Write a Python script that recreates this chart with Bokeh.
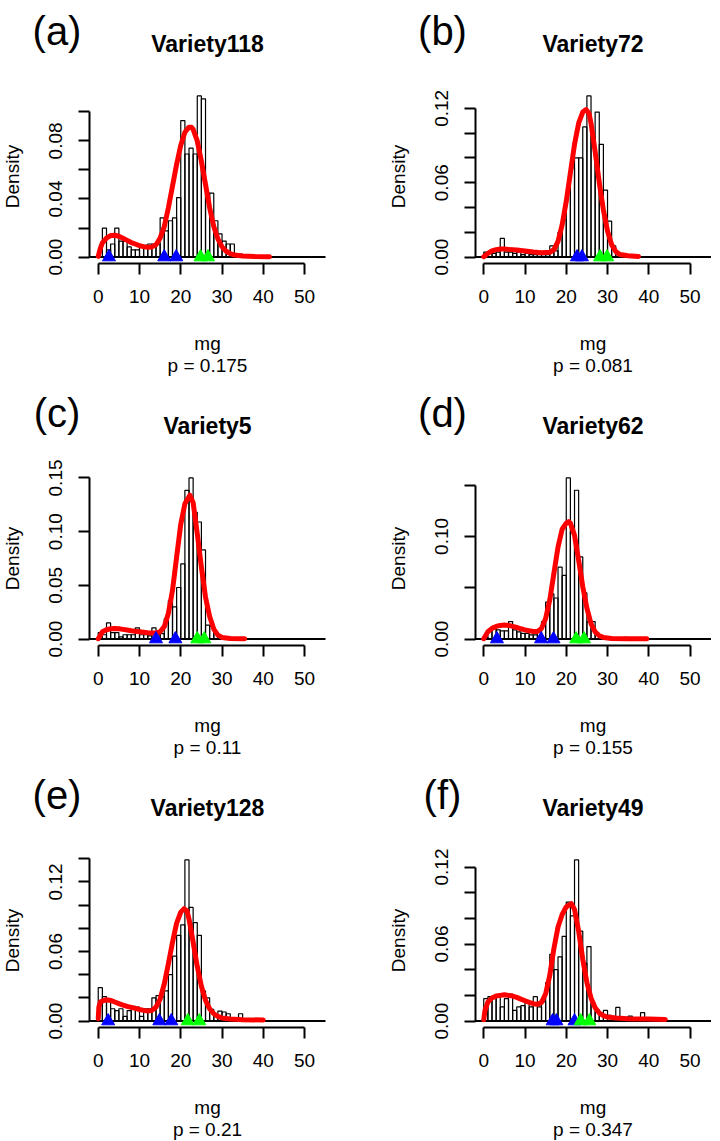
from math import pi
from bokeh.plotting import figure
from bokeh.models import Range1d, LinearAxis, FixedTicker, Label
from bokeh.layouts import column, row
from bokeh.embed import file_html
from bokeh.resources import INLINE

# ---------------- data ----------------
letters = ["(a)", "(b)", "(c)", "(d)", "(e)", "(f)"]
varieties = ["Variety118", "Variety72", "Variety5", "Variety62", "Variety128", "Variety49"]
p_values = ["p = 0.175", "p = 0.081", "p = 0.11", "p = 0.155", "p = 0.21", "p = 0.347"]
x_label = "mg"
y_label = "Density"
x_ticks = [0, 10, 20, 30, 40, 50]

# histogram densities, bins of width 1 starting at 0
hist_a = [0.000, 0.020, 0.005, 0.009, 0.020, 0.011, 0.011, 0.007, 0.005, 0.005,
          0.007, 0.008, 0.009, 0.009, 0.009, 0.027, 0.018, 0.025, 0.027, 0.041,
          0.094, 0.071, 0.075, 0.071, 0.111, 0.109, 0.044, 0.044, 0.025, 0.016,
          0.011, 0.009, 0.009, 0.002, 0.002]
hist_b = [0.004, 0.004, 0.003, 0.004, 0.015, 0.004, 0.004, 0.003, 0.004, 0.002,
          0.003, 0.002, 0.002, 0.002, 0.002, 0.002, 0.009, 0.005, 0.020, 0.030,
          0.052, 0.072, 0.080, 0.080, 0.105, 0.130, 0.097, 0.117, 0.091, 0.054,
          0.029, 0.009, 0.003, 0.001]
hist_c = [0.006, 0.004, 0.015, 0.006, 0.006, 0.002, 0.004, 0.004, 0.004, 0.0105,
          0.004, 0.004, 0.003, 0.0105, 0.004, 0.005, 0.019, 0.036, 0.030, 0.048,
          0.070, 0.1385, 0.150, 0.118, 0.109, 0.083, 0.013, 0.012, 0.005, 0.002,
          0.001]
hist_d = [0.002, 0.009, 0.0125, 0.009, 0.008, 0.008, 0.017, 0.009, 0.007, 0.0055,
          0.0055, 0.004, 0.004, 0.007, 0.017, 0.036, 0.044, 0.040, 0.070, 0.062,
          0.157, 0.105, 0.145, 0.080, 0.045, 0.017, 0.017, 0.0055, 0.002, 0.001,
          0.001, 0.0, 0.0, 0.0, 0.0016]
hist_e = [0.0288, 0.021, 0.019, 0.0106, 0.009, 0.0106, 0.004, 0.009, 0.0127, 0.012,
          0.004, 0.0106, 0.0106, 0.020, 0.022, 0.021, 0.026, 0.040, 0.056, 0.074,
          0.083, 0.139, 0.098, 0.085, 0.074, 0.026, 0.020, 0.010, 0.005, 0.0086,
          0.0078, 0.0063, 0.002, 0.001, 0.0063]
hist_f = [0.0174, 0.019, 0.019, 0.019, 0.011, 0.0174, 0.021, 0.0083, 0.011, 0.012,
          0.016, 0.011, 0.019, 0.011, 0.015, 0.030, 0.052, 0.040, 0.050, 0.066,
          0.0927, 0.082, 0.1255, 0.070, 0.045, 0.058, 0.0135, 0.0088, 0.0057, 0.0083,
          0.0044, 0.002, 0.0106, 0.002, 0.001, 0.0039, 0.001, 0.001, 0.0065]

# fitted density curves
curve_x_a = [0, 0.5, 1, 2, 3, 4, 5, 6, 7, 8, 9, 10, 11, 12, 13, 14, 15, 16, 17, 18, 19,
             20, 21, 22, 22.6, 23, 24, 25, 26, 27, 28, 29, 30, 31, 32, 33, 35, 38, 41.5]
curve_y_a = [0.0005, 0.006, 0.0097, 0.013, 0.0148, 0.015, 0.0143, 0.013, 0.0115, 0.010,
             0.009, 0.0078, 0.0072, 0.0067, 0.007, 0.0085, 0.013, 0.021, 0.034, 0.049,
             0.064, 0.077, 0.086, 0.0895, 0.0895, 0.088, 0.080, 0.066, 0.050, 0.034,
             0.021, 0.0125, 0.007, 0.004, 0.0023, 0.0014, 0.0007, 0.0003, 0.0002]
curve_x_b = [0, 1, 2, 3, 4, 5, 6, 8, 10, 12, 14, 16, 17, 18, 19, 20, 21, 22, 23, 24,
             24.8, 25.5, 26, 27, 28, 29, 30, 31, 32, 33, 35, 37.5]
curve_y_b = [0.0003, 0.003, 0.005, 0.006, 0.0065, 0.0065, 0.0062, 0.0057, 0.0049, 0.004,
             0.0035, 0.0038, 0.006, 0.0127, 0.026, 0.045, 0.068, 0.091, 0.108, 0.117,
             0.119, 0.116, 0.108, 0.085, 0.060, 0.038, 0.021, 0.010, 0.0045, 0.002,
             0.001, 0.0005]
curve_x_c = [0, 1, 2, 3, 4, 5, 6, 7, 8, 10, 12, 13, 14, 15, 16, 17, 18, 19, 20, 21,
             22.2, 23, 24, 25, 26, 27, 28, 29, 30, 32, 35.5]
curve_y_c = [0.0003, 0.0068, 0.0087, 0.0096, 0.0099, 0.0096, 0.009, 0.0084, 0.0077,
             0.0068, 0.0059, 0.0056, 0.0056, 0.0068, 0.0115, 0.024, 0.0455, 0.0765,
             0.107, 0.126, 0.134, 0.127, 0.098, 0.067, 0.039, 0.021, 0.0093, 0.0037,
             0.0015, 0.0006, 0.0003]
curve_x_d = [0, 1, 2, 3, 4, 5, 6, 7, 8, 9, 10, 11, 12, 13, 14, 15, 16, 17, 18, 19, 20,
             20.6, 21, 22, 23, 24, 25, 26, 27, 28, 29, 31, 35, 39.5]
curve_y_d = [0.0003, 0.0071, 0.0104, 0.0123, 0.0133, 0.0136, 0.0133, 0.0123, 0.0113,
             0.010, 0.009, 0.0081, 0.0074, 0.0074, 0.0104, 0.020, 0.038, 0.064, 0.0896,
             0.107, 0.113, 0.1145, 0.113, 0.101, 0.077, 0.051, 0.030, 0.015, 0.007,
             0.0032, 0.0016, 0.0006, 0.0003, 0.0003]
curve_x_e = [0, 0.15, 0.5, 1, 2, 3, 4, 5, 6, 7, 8, 9, 10, 11, 12, 13, 14, 15, 16, 17,
             18, 19, 20, 20.8, 21.5, 22, 23, 24, 25, 26, 27, 28, 29, 30, 32, 35, 40]
curve_y_e = [0.002, 0.012, 0.0164, 0.0173, 0.0184, 0.0178, 0.0164, 0.015, 0.0138,
             0.0127, 0.0118, 0.0109, 0.010, 0.0092, 0.0086, 0.0092, 0.012, 0.019,
             0.032, 0.0495, 0.068, 0.0845, 0.094, 0.097, 0.095, 0.088, 0.068, 0.047,
             0.030, 0.0178, 0.0106, 0.0063, 0.004, 0.0026, 0.0017, 0.0012, 0.0009]
curve_x_f = [0, 0.3, 1, 2, 3, 4, 5, 6, 7, 8, 9, 10, 11, 12, 13, 14, 15, 16, 17, 18,
             19, 20, 21.2, 22, 23, 24, 25, 26, 27, 28, 29, 30, 32, 35, 40, 44]
curve_y_f = [0.001, 0.0083, 0.0148, 0.018, 0.0195, 0.020, 0.0205, 0.020, 0.0195,
             0.0184, 0.0171, 0.0158, 0.0145, 0.0135, 0.013, 0.0145, 0.0213, 0.0356,
             0.0564, 0.0732, 0.083, 0.089, 0.0915, 0.087, 0.070, 0.048, 0.030, 0.018,
             0.0104, 0.0062, 0.0042, 0.0031, 0.0023, 0.0018, 0.0016, 0.0013]

# marker positions on the baseline
blue_a = [2.6, 16.0, 18.9]
green_a = [24.8, 26.6]
blue_b = [22.6, 23.8]
green_b = [28.2, 29.9]
blue_c = [14.0, 18.7]
green_c = [24.0, 25.7]
blue_d = [3.2, 13.9, 16.9]
green_d = [22.4, 24.3]
blue_e = [2.4, 14.8, 17.7]
green_e = [21.7, 24.5]
blue_f = [16.7, 17.6, 22.0]
green_f = [23.5, 25.6]

# y-axis ticks and labels
y_ticks_a = [0.0, 0.02, 0.04, 0.06, 0.08, 0.10]
y_labels_a = ["0.00", "", "0.04", "", "0.08", ""]
y_ticks_b = [0.0, 0.02, 0.04, 0.06, 0.08, 0.10, 0.12]
y_labels_b = ["0.00", "", "", "0.06", "", "", "0.12"]
y_ticks_c = [0.0, 0.05, 0.10, 0.15]
y_labels_c = ["0.00", "0.05", "0.10", "0.15"]
y_ticks_d = [0.0, 0.05, 0.10, 0.15]
y_labels_d = ["0.00", "", "0.10", ""]
y_ticks_e = [0.0, 0.02, 0.04, 0.06, 0.08, 0.10, 0.12, 0.14]
y_labels_e = ["0.00", "", "", "0.06", "", "", "0.12", ""]
y_ticks_f = [0.0, 0.02, 0.04, 0.06, 0.08, 0.10, 0.12]
y_labels_f = ["0.00", "", "", "0.06", "", "", "0.12"]

panels = [
    (hist_a, curve_x_a, curve_y_a, blue_a, green_a, y_ticks_a, y_labels_a),
    (hist_b, curve_x_b, curve_y_b, blue_b, green_b, y_ticks_b, y_labels_b),
    (hist_c, curve_x_c, curve_y_c, blue_c, green_c, y_ticks_c, y_labels_c),
    (hist_d, curve_x_d, curve_y_d, blue_d, green_d, y_ticks_d, y_labels_d),
    (hist_e, curve_x_e, curve_y_e, blue_e, green_e, y_ticks_e, y_labels_e),
    (hist_f, curve_x_f, curve_y_f, blue_f, green_f, y_ticks_f, y_labels_f),
]

# ---------------- layout ----------------
FONT = "Liberation Sans"
FW, FH = 236, 174           # size of the R plot region in px
FIG_W = 360
COL_L = [89, 114.5]         # px from figure left to plot-region left
ROW_H = [382, 382, 377]
ROW_FB = [263, 263, 263]    # px from figure top to plot-region bottom
X_LO, X_HI = -2.12, 55.08   # plot region in data units
DENS_DX = [-77, -77]


def style_axis(ax):
    ax.axis_line_width = 2
    ax.axis_line_color = "black"
    ax.major_tick_line_width = 2
    ax.major_tick_line_color = "black"
    ax.major_tick_out = 11
    ax.major_tick_in = 0
    ax.minor_tick_out = 0
    ax.minor_tick_in = 0
    ax.major_label_text_font = FONT
    ax.major_label_text_font_size = "19px"
    ax.major_label_text_color = "black"


def make_panel(i):
    hist, cx, cy, blue, green, yt, ytl = panels[i]
    col, rw = i % 2, i // 2
    L, H, FB = COL_L[col], ROW_H[rw], ROW_FB[rw]
    R = max(hist)
    y_lo, y_hi = -0.04 * R, 1.04 * R
    xpp = (X_HI - X_LO) / FW
    ypp = (y_hi - y_lo) / FH
    x_start = X_LO - L * xpp
    x_end = X_HI + (FIG_W - L - FW) * xpp
    y_start = y_lo - (H - FB) * ypp
    y_end = y_hi + (FB - FH) * ypp

    p = figure(width=FIG_W, height=H,
               x_range=Range1d(x_start, x_end), y_range=Range1d(y_start, y_end),
               output_backend="svg", toolbar_location=None,
               x_axis_type=None, y_axis_type=None, min_border=0,
               outline_line_color=None, background_fill_color="white",
               border_fill_color="white")

    left = list(range(len(hist)))
    right = [v + 1 for v in left]
    p.quad(left=left, right=right, bottom=0, top=hist, fill_color=None,
           line_color="black", line_width=1.2)
    p.segment(x0=[X_LO], y0=[0], x1=[X_HI], y1=[0], line_color="black", line_width=2)
    p.line(cx, cy, line_color="#FF0000", line_width=5, line_join="round", line_cap="round")
    p.scatter(blue, [0] * len(blue), marker="triangle", size=13,
              fill_color="#0000FF", line_color="#0000FF")
    p.scatter(green, [0] * len(green), marker="triangle", size=13,
              fill_color="#00FF00", line_color="#00FF00")

    xa = LinearAxis(ticker=FixedTicker(ticks=x_ticks), bounds=(x_ticks[0], x_ticks[-1]),
                    fixed_location=y_lo)
    style_axis(xa)
    xa.major_label_standoff = 15
    p.add_layout(xa, "below")

    ya = LinearAxis(ticker=FixedTicker(ticks=yt), bounds=(yt[0], yt[-1]),
                    major_label_overrides={t: l for t, l in zip(yt, ytl)},
                    major_label_orientation="vertical", fixed_location=X_LO)
    style_axis(ya)
    ya.major_label_standoff = 16
    p.add_layout(ya, "left")

    bx = L                  # plot-region left, px from figure left
    by = H - FB             # plot-region bottom, px from figure bottom

    def lab(dx, dy, txt, size, bold=False, angle=0.0):
        p.add_layout(Label(x=bx + dx, y=by + dy, x_units="screen", y_units="screen",
                           text=txt, text_font=FONT, text_font_size=size,
                           text_color="black",
                           text_font_style="bold" if bold else "normal",
                           text_align="center", text_baseline="middle", angle=angle))

    lab(-32.5, 233, letters[i], "40px")
    lab(FW / 2, 220, varieties[i], "23px", bold=True)
    lab(DENS_DX[col], FH / 2, y_label, "19px", angle=pi / 2)
    lab(FW / 2, -80, x_label, "19px")
    lab(FW / 2, -101.6, p_values[i], "19px")
    return p


figs = [make_panel(i) for i in range(6)]
layout = column(row(figs[0], figs[1]), row(figs[2], figs[3]), row(figs[4], figs[5]))

open("out.html", "w").write(file_html(layout, INLINE))
